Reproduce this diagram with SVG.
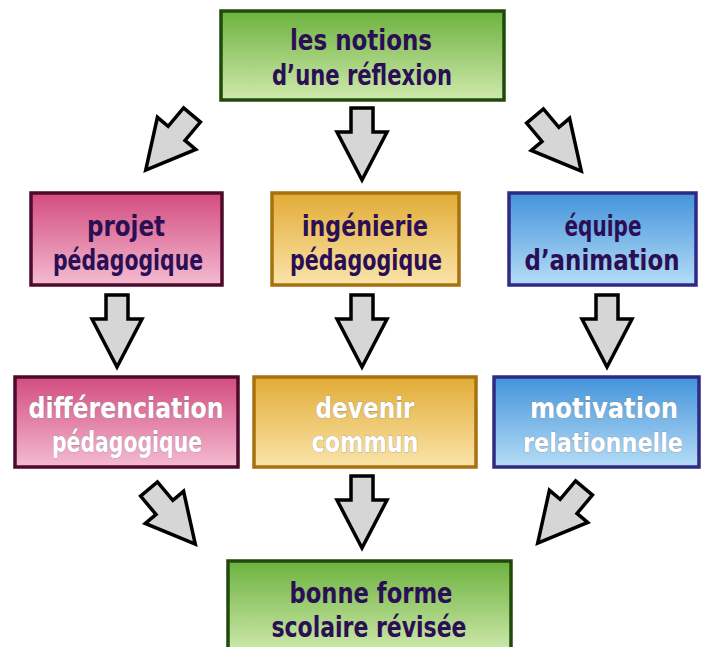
<svg xmlns="http://www.w3.org/2000/svg" xmlns:xlink="http://www.w3.org/1999/xlink" width="702" height="647" viewBox="0 0 702 647">
<defs>
<linearGradient id="gGreen" x1="0" y1="0" x2="0" y2="1"><stop offset="0" stop-color="#6cb23e"/><stop offset="1" stop-color="#d0e9ad"/></linearGradient>
<linearGradient id="gPink" x1="0" y1="0" x2="0" y2="1"><stop offset="0" stop-color="#d24c80"/><stop offset="1" stop-color="#f5bbd1"/></linearGradient>
<linearGradient id="gOrange" x1="0" y1="0" x2="0" y2="1"><stop offset="0" stop-color="#e2ac36"/><stop offset="1" stop-color="#fae4aa"/></linearGradient>
<linearGradient id="gBlue" x1="0" y1="0" x2="0" y2="1"><stop offset="0" stop-color="#4393da"/><stop offset="1" stop-color="#b6ddf7"/></linearGradient>
<path id="arr" d="M-11,0 H11 V24 H25 L0,72 L-25,24 H-11 Z"/>
</defs>
<style>
.box{stroke-width:3.5}
.green{fill:url(#gGreen);stroke:#1f4a0c}
.pink{fill:url(#gPink);stroke:#4d0a2c}
.orange{fill:url(#gOrange);stroke:#a8700e}
.blue{fill:url(#gBlue);stroke:#2e2a85}
text{font-family:"DejaVu Sans Condensed","DejaVu Sans",sans-serif;font-weight:bold;font-size:29px;text-anchor:middle}
.dk{fill:#2b0f55}
.wh{fill:#ffffff;stroke:#8a8a8a;stroke-width:0.6;paint-order:stroke}
.arrow{fill:#d6d6d6;stroke:#000;stroke-width:3.5;stroke-linejoin:miter}
</style>
<rect width="702" height="647" fill="#ffffff"/>
<g id="connectors">
<use xlink:href="#arr" class="arrow" transform="translate(192,115) rotate(40)"/>
<use xlink:href="#arr" class="arrow" transform="translate(362,108)"/>
<use xlink:href="#arr" class="arrow" transform="translate(535,116) rotate(-40)"/>
<use xlink:href="#arr" class="arrow" transform="translate(117,295)"/>
<use xlink:href="#arr" class="arrow" transform="translate(362,295)"/>
<use xlink:href="#arr" class="arrow" transform="translate(607,295)"/>
<use xlink:href="#arr" class="arrow" transform="translate(149,489) rotate(-40)"/>
<use xlink:href="#arr" class="arrow" transform="translate(362,476)"/>
<use xlink:href="#arr" class="arrow" transform="translate(584,488) rotate(40)"/>
</g>
<g id="notions">
<rect class="box green" x="221" y="11" width="283" height="89"/>
<text class="dk" x="361" y="50" textLength="142" lengthAdjust="spacingAndGlyphs">les notions</text>
<text class="dk" x="362" y="85" textLength="180" lengthAdjust="spacingAndGlyphs">d’une réflexion</text>
</g>
<g id="projet">
<rect class="box pink" x="31" y="193" width="191" height="92"/>
<text class="dk" x="126" y="236" textLength="78" lengthAdjust="spacingAndGlyphs">projet</text>
<text class="dk" x="128" y="270" textLength="150" lengthAdjust="spacingAndGlyphs">pédagogique</text>
</g>
<g id="ingenierie">
<rect class="box orange" x="272" y="193" width="187" height="92"/>
<text class="dk" x="365" y="236" textLength="126" lengthAdjust="spacingAndGlyphs">ingénierie</text>
<text class="dk" x="366" y="270" textLength="152" lengthAdjust="spacingAndGlyphs">pédagogique</text>
</g>
<g id="equipe">
<rect class="box blue" x="509" y="193" width="187" height="92"/>
<text class="dk" x="603" y="236" textLength="77" lengthAdjust="spacingAndGlyphs">équipe</text>
<text class="dk" x="602" y="270" textLength="155" lengthAdjust="spacingAndGlyphs">d’animation</text>
</g>
<g id="differenciation">
<rect class="box pink" x="15" y="377" width="223" height="90"/>
<text class="wh" x="126" y="418" textLength="195" lengthAdjust="spacingAndGlyphs">différenciation</text>
<text class="wh" x="127" y="452" textLength="150" lengthAdjust="spacingAndGlyphs">pédagogique</text>
</g>
<g id="devenir">
<rect class="box orange" x="254" y="377" width="222" height="90"/>
<text class="wh" x="365" y="418" textLength="99" lengthAdjust="spacingAndGlyphs">devenir</text>
<text class="wh" x="365" y="452" textLength="107" lengthAdjust="spacingAndGlyphs">commun</text>
</g>
<g id="motivation">
<rect class="box blue" x="494" y="377" width="205" height="90"/>
<text class="wh" x="604" y="418" textLength="148" lengthAdjust="spacingAndGlyphs">motivation</text>
<text class="wh" x="603" y="452" textLength="160" lengthAdjust="spacingAndGlyphs" style="font-size:27px">relationnelle</text>
</g>
<g id="bonne">
<rect class="box green" x="228" y="561" width="283" height="92"/>
<text class="dk" x="371" y="603" textLength="163" lengthAdjust="spacingAndGlyphs">bonne forme</text>
<text class="dk" x="369" y="637" textLength="195" lengthAdjust="spacingAndGlyphs">scolaire révisée</text>
</g>
</svg>
